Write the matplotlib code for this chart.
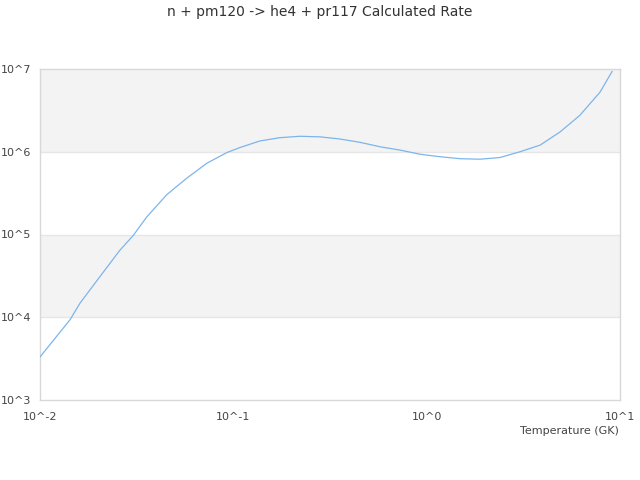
import matplotlib
matplotlib.use("Agg")
import matplotlib.pyplot as plt
from matplotlib.ticker import FixedLocator, NullLocator

# values (temperature in GK, log10 of the rate)
temperature = [0.010, 0.0143, 0.0161, 0.0204, 0.0259, 0.0304, 0.0356, 0.0452, 0.0574,
               0.0728, 0.0925, 0.108, 0.137, 0.174, 0.221, 0.281, 0.356, 0.452, 0.574,
               0.728, 0.925, 1.17, 1.49, 1.89, 2.39, 3.04, 3.86, 4.90, 6.20, 7.88, 9.10]
log_rate = [3.52, 3.97, 4.17, 4.49, 4.81, 4.99, 5.21, 5.48, 5.68,
            5.86, 5.99, 6.05, 6.13, 6.17, 6.187, 6.18, 6.154, 6.114, 6.06,
            6.02, 5.97, 5.94, 5.916, 5.91, 5.93, 6.00, 6.08, 6.24, 6.44, 6.72, 6.97]
rate = [10 ** v for v in log_rate]

x_ticks = [0.01, 0.1, 1, 10]
x_labels = ["10^-2", "10^-1", "10^0", "10^1"]
y_ticks = [1e3, 1e4, 1e5, 1e6, 1e7]
y_labels = ["10^3", "10^4", "10^5", "10^6", "10^7"]

title = "n + pm120 -> he4 + pr117 Calculated Rate"
x_title = "Temperature (GK)"

fig = plt.figure(figsize=(6.4, 4.8), dpi=100)
ax = fig.add_axes([40 / 640, 80 / 480, 580 / 640, 331 / 480])
ax.set_xscale("log")
ax.set_yscale("log")
ax.set_xlim(x_ticks[0], x_ticks[-1])
ax.set_ylim(y_ticks[0], y_ticks[-1])

# alternating grid bands
for i in range(len(y_ticks) - 1):
    if i % 2 == 1:
        ax.axhspan(y_ticks[i], y_ticks[i + 1], color="#f3f3f3", zorder=0, lw=0)
for y in y_ticks[1:-1]:
    ax.axhline(y, color="#e6e6e6", lw=1, zorder=1)

ax.plot(temperature, rate, color="#7cb5ec", lw=0.9, zorder=3)

ax.xaxis.set_major_locator(FixedLocator(x_ticks))
ax.xaxis.set_minor_locator(NullLocator())
ax.set_xticklabels(x_labels)
ax.yaxis.set_major_locator(FixedLocator(y_ticks))
ax.yaxis.set_minor_locator(NullLocator())
ax.set_yticklabels(y_labels)
ax.tick_params(axis="both", length=0, labelsize=8, colors="#444444")
ax.tick_params(axis="x", pad=9)
ax.tick_params(axis="y", pad=6)

for spine in ax.spines.values():
    spine.set_color("#d8d8d8")
    spine.set_linewidth(1)

fig.text(0.5, 1 - 12 / 480, title, ha="center", va="center", fontsize=10, color="#333333")
fig.text(619 / 640, 1 - 431 / 480, x_title, ha="right", va="center", fontsize=8, color="#444444")

fig.savefig("out.png", dpi=100)
